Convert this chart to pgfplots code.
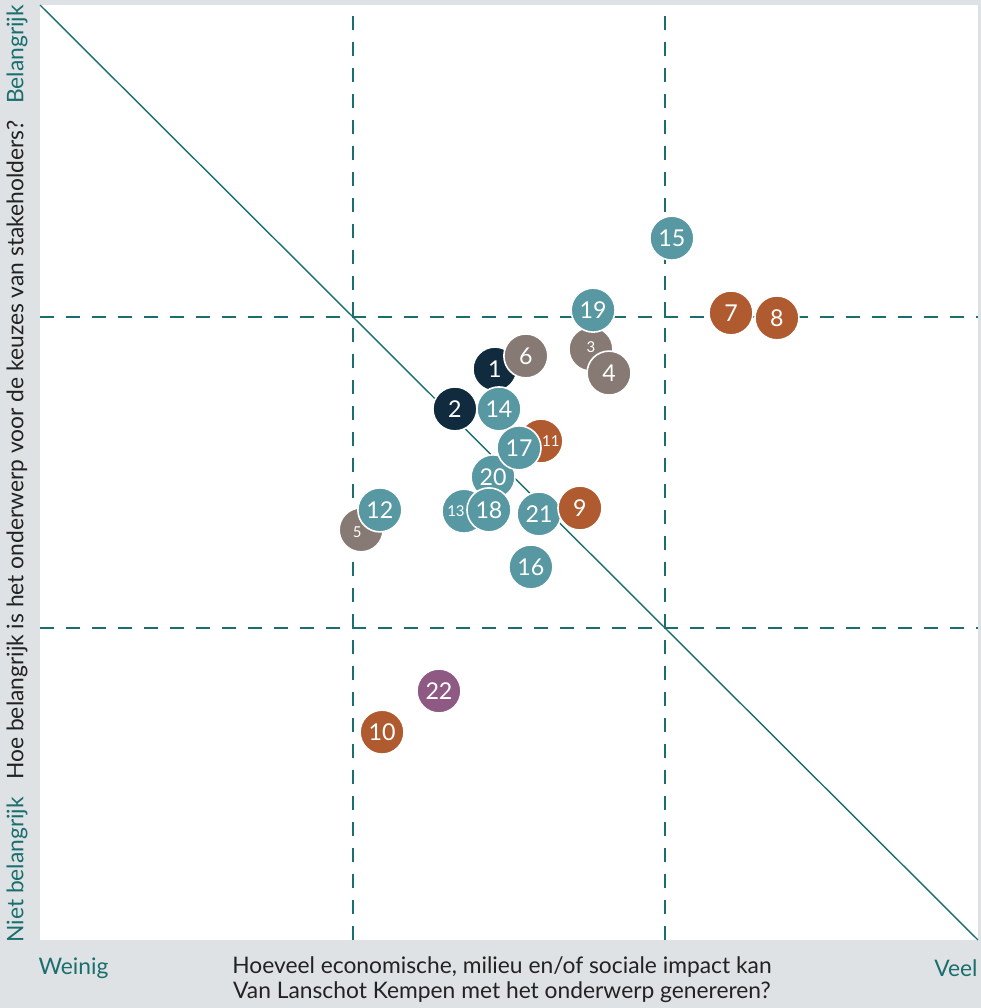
\documentclass[border=0pt]{standalone}
\usepackage{pgfplots}
\pgfplotsset{compat=1.18}
\usepackage{fontspec}
\setmainfont{Lato}
\definecolor{bg}{HTML}{DEE2E5}
\definecolor{tealb}{HTML}{5898A3}
\definecolor{navy}{HTML}{0F2B3D}
\definecolor{grayb}{HTML}{877A74}
\definecolor{orangeb}{HTML}{B05B2F}
\definecolor{purpleb}{HTML}{8E5A84}
\definecolor{lineteal}{HTML}{1A6E6E}
\definecolor{txt}{HTML}{222222}
\pgfplotsset{
  bub/.style n args={3}{only marks, mark=*, mark size=11pt,
    mark options={fill=#1, draw=white, line width=0.8pt},
    point meta=explicit symbolic, nodes near coords,
    every node near coord/.append style={anchor=center, text=white, font=#2, #3}},
}
\newcommand{\bigf}{\fontsize{11.6}{13}\selectfont}
\newcommand{\smf}{\fontsize{7.5}{9}\selectfont}
\newcommand{\labf}{\fontsize{11.4}{12.5}\selectfont}
\begin{document}
\begin{tikzpicture}
\fill[bg] (-20pt,-34pt) rectangle (470.5pt,470pt);
\begin{axis}[
  scale only axis, width=469pt, height=467.5pt,
  xmin=0, xmax=3, ymin=0, ymax=3,
  axis line style={draw=none}, ticks=none,
  axis background/.style={fill=white},
  clip=false,
]
\addplot[lineteal, line width=0.95pt, dash pattern=on 7pt off 6pt] coordinates {(1,0) (1,3)};
\addplot[lineteal, line width=0.95pt, dash pattern=on 7pt off 6pt] coordinates {(2,0) (2,3)};
\addplot[lineteal, line width=0.95pt, dash pattern=on 7pt off 6pt] coordinates {(0,1) (3,1)};
\addplot[lineteal, line width=0.95pt, dash pattern=on 7pt off 6pt] coordinates {(0,2) (3,2)};
\addplot[lineteal, line width=0.7pt] coordinates {(0,3) (3,0)};
% bubbles
\addplot[bub={navy}{\bigf}{}] coordinates {(1.455,1.832)[1]};
\addplot[bub={navy}{\bigf}{}] coordinates {(1.327,1.704)[2]};
\addplot[bub={tealb}{\bigf}{}] coordinates {(1.468,1.704)[14]};
\addplot[bub={grayb}{\bigf}{}] coordinates {(1.554,1.874)[6]};
\addplot[bub={grayb}{\smf}{yshift=1pt}] coordinates {(1.762,1.896)[3]};
\addplot[bub={tealb}{\bigf}{}] coordinates {(1.769,2.021)[19]};
\addplot[bub={grayb}{\bigf}{}] coordinates {(1.820,1.819)[4]};
\addplot[bub={grayb}{\smf}{xshift=-2pt,yshift=-1pt}] coordinates {(1.027,1.316)[5]};
\addplot[bub={tealb}{\bigf}{}] coordinates {(1.087,1.380)[12]};
\addplot[bub={orangeb}{\smf}{xshift=5pt}] coordinates {(1.602,1.601)[11]};
\addplot[bub={tealb}{\bigf}{}] coordinates {(1.596,1.367)[21]};
\addplot[bub={orangeb}{\bigf}{}] coordinates {(1.727,1.386)[9]};
\addplot[bub={tealb}{\bigf}{}] coordinates {(1.449,1.486)[20]};
\addplot[bub={tealb}{\bigf}{}] coordinates {(1.532,1.579)[17]};
\addplot[bub={tealb}{\smf}{xshift=-4pt}] coordinates {(1.356,1.376)[13]};
\addplot[bub={tealb}{\bigf}{}] coordinates {(1.436,1.380)[18]};
\addplot[bub={tealb}{\bigf}{}] coordinates {(1.570,1.197)[16]};
\addplot[bub={tealb}{\bigf}{}] coordinates {(2.021,2.252)[15]};
\addplot[bub={orangeb}{\bigf}{}] coordinates {(2.210,2.012)[7]};
\addplot[bub={orangeb}{\bigf}{}] coordinates {(2.357,1.996)[8]};
\addplot[bub={orangeb}{\bigf}{}] coordinates {(1.094,0.667)[10]};
\addplot[bub={purpleb}{\bigf}{}] coordinates {(1.276,0.799)[22]};
% labels
\node[font=\labf, text=lineteal, anchor=west, inner sep=0pt] at (rel axis cs:-0.002,-0.030) {Weinig};
\node[font=\labf, text=lineteal, anchor=east, inner sep=0pt] at (rel axis cs:1.0,-0.030) {Veel};
\node[font=\labf, text=txt, align=center, inner sep=0pt] at (rel axis cs:0.4925,-0.0428) {Hoeveel economische, milieu en/of sociale impact kan\\Van Lanschot Kempen met het onderwerp genereren?};
\node[font=\labf, text=lineteal, rotate=90, inner sep=0pt] at (rel axis cs:-0.0245,0.947) {Belangrijk};
\node[font=\labf, text=lineteal, rotate=90, inner sep=0pt] at (rel axis cs:-0.0245,0.075) {Niet belangrijk};
\node[font=\labf, text=txt, rotate=90, inner sep=0pt] at (rel axis cs:-0.0245,0.524) {Hoe belangrijk is het onderwerp voor de keuzes van stakeholders?};
\end{axis}
\end{tikzpicture}
\end{document}
